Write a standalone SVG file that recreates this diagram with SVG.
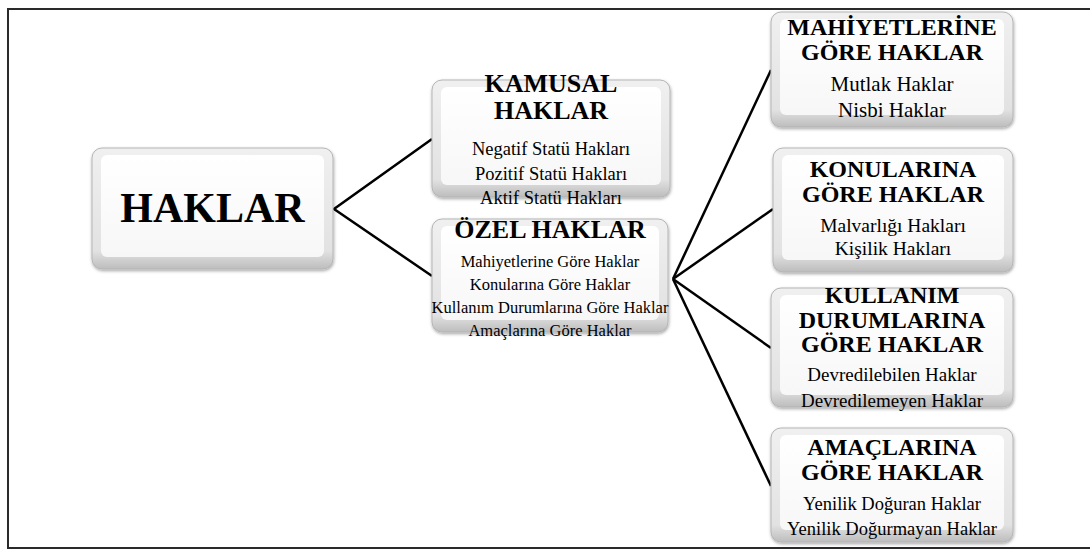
<svg xmlns="http://www.w3.org/2000/svg" width="1090" height="550" viewBox="0 0 1090 550">
<defs>
<linearGradient id="gOuter" x1="0" y1="0" x2="0" y2="1">
<stop offset="0" stop-color="#f0f0f0"/>
<stop offset="0.85" stop-color="#e2e2e2"/>
<stop offset="1" stop-color="#bdbdbd"/>
</linearGradient>
<linearGradient id="gInner" x1="0" y1="0" x2="0" y2="1">
<stop offset="0" stop-color="#ffffff"/>
<stop offset="1" stop-color="#f7f7f7"/>
</linearGradient>
<filter id="sh" x="-10%" y="-10%" width="120%" height="130%">
<feDropShadow dx="0.5" dy="1.5" stdDeviation="1.5" flood-color="#000" flood-opacity="0.35"/>
</filter>
</defs>
<style>
.outer{fill:url(#gOuter);stroke:#b5b5b5;stroke-width:1;filter:url(#sh)}
.inner{fill:url(#gInner);stroke:none}
text{font-family:"Liberation Serif","Times New Roman",serif;fill:#000;text-anchor:middle}
.b{font-weight:bold}
.conn{stroke:#000;stroke-width:2.5;fill:none}
</style>
<rect x="0" y="0" width="1090" height="550" fill="#fff"/>
<path d="M1092,9 H8 V548 H1092" fill="none" stroke="#2a2a2a" stroke-width="2"/>

<g id="connectors">
<polyline class="conn" points="432,139 334,209 432,276"/>
<line class="conn" x1="673" y1="279" x2="771" y2="70"/>
<line class="conn" x1="673" y1="279" x2="773" y2="209"/>
<line class="conn" x1="673" y1="279" x2="771" y2="348"/>
<line class="conn" x1="673" y1="279" x2="771" y2="486"/>
</g>

<g id="haklar">
<rect class="outer" x="92" y="148" width="241" height="121" rx="10"/>
<rect class="inner" x="101" y="155" width="223" height="102" rx="6"/>
<text class="b" x="212.5" y="222" font-size="42">HAKLAR</text>
</g>

<g id="kamusal">
<rect class="outer" x="432" y="80" width="238" height="117" rx="10"/>
<rect class="inner" x="441" y="87" width="220" height="98" rx="6"/>
<text class="b" x="551" y="92" font-size="26">KAMUSAL</text>
<text class="b" x="551" y="119" font-size="26">HAKLAR</text>
<text x="551" y="155" font-size="18.5">Negatif Statü Hakları</text>
<text x="551" y="179.5" font-size="18.5">Pozitif Statü Hakları</text>
<text x="551" y="204" font-size="18.5">Aktif Statü Hakları</text>
</g>

<g id="ozel">
<rect class="outer" x="432" y="219" width="236" height="113" rx="10"/>
<rect class="inner" x="441" y="226" width="218" height="94" rx="6"/>
<text class="b" x="550" y="238" font-size="26">ÖZEL HAKLAR</text>
<text x="550" y="267" font-size="16.5">Mahiyetlerine Göre Haklar</text>
<text x="550" y="290" font-size="16.5">Konularına Göre Haklar</text>
<text x="550" y="313" font-size="16.5">Kullanım Durumlarına Göre Haklar</text>
<text x="550" y="336" font-size="16.5">Amaçlarına Göre Haklar</text>
</g>

<g id="mahiyet">
<rect class="outer" x="771" y="12" width="242" height="115" rx="10"/>
<rect class="inner" x="780" y="19" width="224" height="96" rx="6"/>
<text class="b" x="892" y="35" font-size="24">MAHİYETLERİNE</text>
<text class="b" x="892" y="60" font-size="24">GÖRE HAKLAR</text>
<text x="892" y="91" font-size="21">Mutlak Haklar</text>
<text x="892" y="117" font-size="21">Nisbi Haklar</text>
</g>

<g id="konular">
<rect class="outer" x="773" y="148" width="240" height="124" rx="10"/>
<rect class="inner" x="782" y="155" width="222" height="105" rx="6"/>
<text class="b" x="893" y="177" font-size="24">KONULARINA</text>
<text class="b" x="893" y="202" font-size="24">GÖRE HAKLAR</text>
<text x="893" y="232" font-size="19.5">Malvarlığı Hakları</text>
<text x="893" y="255" font-size="19.5">Kişilik Hakları</text>
</g>

<g id="kullanim">
<rect class="outer" x="771" y="288" width="242" height="119" rx="10"/>
<rect class="inner" x="780" y="295" width="224" height="100" rx="6"/>
<text class="b" x="892" y="303" font-size="24">KULLANIM</text>
<text class="b" x="892" y="328" font-size="24">DURUMLARINA</text>
<text class="b" x="892" y="352" font-size="24">GÖRE HAKLAR</text>
<text x="892" y="381" font-size="19">Devredilebilen Haklar</text>
<text x="892" y="407" font-size="19">Devredilemeyen Haklar</text>
</g>

<g id="amac">
<rect class="outer" x="771" y="428" width="242" height="114" rx="10"/>
<rect class="inner" x="780" y="435" width="224" height="95" rx="6"/>
<text class="b" x="892" y="455" font-size="24">AMAÇLARINA</text>
<text class="b" x="892" y="480" font-size="24">GÖRE HAKLAR</text>
<text x="892" y="510" font-size="18.5">Yenilik Doğuran Haklar</text>
<text x="892" y="535" font-size="18.5">Yenilik Doğurmayan Haklar</text>
</g>
</svg>
